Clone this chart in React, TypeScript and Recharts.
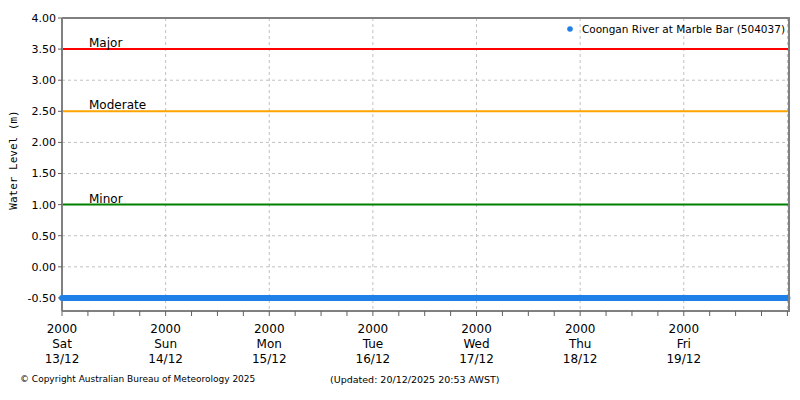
import React from "react";
import {
  ComposedChart, Line, XAxis, YAxis, CartesianGrid, ReferenceLine,
} from "recharts";

// hours since Sat 13/12 00:00
const hours = [
  0, 3, 6, 9, 12, 15, 18, 21, 24, 27, 30, 33, 36, 39, 42, 45, 48, 51, 54, 57,
  60, 63, 66, 69, 72, 75, 78, 81, 84, 87, 90, 93, 96, 99, 102, 105, 108, 111,
  114, 117, 120, 123, 126, 129, 132, 135, 138, 141, 144, 147, 150, 153, 156,
  159, 162, 165, 168,
];
// water level (m)
const levels = [
  -0.5, -0.5, -0.5, -0.5, -0.5, -0.5, -0.5, -0.5, -0.5, -0.5, -0.5, -0.5, -0.5,
  -0.5, -0.5, -0.5, -0.5, -0.5, -0.5, -0.5, -0.5, -0.5, -0.5, -0.5, -0.5, -0.5,
  -0.5, -0.5, -0.5, -0.5, -0.5, -0.5, -0.5, -0.5, -0.5, -0.5, -0.5, -0.5, -0.5,
  -0.5, -0.5, -0.5, -0.5, -0.5, -0.5, -0.5, -0.5, -0.5, -0.5, -0.5, -0.5, -0.5,
  -0.5, -0.5, -0.5, -0.5, -0.5,
];

const xTicks = [
  0, 6, 12, 18, 24, 30, 36, 42, 48, 54, 60, 66, 72, 78, 84, 90, 96, 102, 108,
  114, 120, 126, 132, 138, 144, 150, 156, 162, 168,
];
const dayTicks = [0, 24, 48, 72, 96, 120, 144];
const dayYears = ["2000", "2000", "2000", "2000", "2000", "2000", "2000"];
const dayNames = ["Sat", "Sun", "Mon", "Tue", "Wed", "Thu", "Fri"];
const dayDates = ["13/12", "14/12", "15/12", "16/12", "17/12", "18/12", "19/12"];
const gridDays = [24, 48, 72, 96, 120, 144, 168];
const yTicks = [-0.5, 0, 0.5, 1, 1.5, 2, 2.5, 3, 3.5, 4];

const thresholds = [
  { name: "Major", value: 3.5, color: "#ff0000" },
  { name: "Moderate", value: 2.5, color: "#ffa500" },
  { name: "Minor", value: 1.0, color: "#008000" },
];

const seriesName = "Coongan River at Marble Bar (504037)";
const FONT = "'DejaVu Sans', sans-serif";
const BLUE = "#1f80e8";

const XTick = (props: any) => {
  const { x, y, payload } = props;
  const i = dayTicks.indexOf(payload.value);
  if (i < 0) return <g />;
  return (
    <text x={x} y={y + 4} textAnchor="middle" fontSize={12} fontFamily={FONT} fill="#000">
      <tspan x={x} dy="0.9em">{dayYears[i]}</tspan>
      <tspan x={x} dy="1.25em">{dayNames[i]}</tspan>
      <tspan x={x} dy="1.25em">{dayDates[i]}</tspan>
    </text>
  );
};

export default function App() {
  const data = hours.map((h, i) => ({ t: h, level: levels[i] }));

  return (
    <div style={{ position: "absolute", left: 0, top: 0, width: 800, height: 400, background: "#fff" }}>
      <ComposedChart
        width={800}
        height={400}
        data={data}
        margin={{ top: 18, right: 10, left: 0, bottom: 0 }}
      >
        <CartesianGrid
          stroke="#c0c0c0"
          strokeDasharray="3 3"
          verticalValues={gridDays}
          horizontalValues={yTicks}
        />
        <XAxis
          dataKey="t"
          type="number"
          domain={[0, 168.6]}
          ticks={xTicks}
          interval={0}
          height={89}
          tick={<XTick />}
          tickSize={5}
          stroke="#808080"
          axisLine={{ stroke: "#808080", strokeWidth: 2 }}
          tickLine={{ stroke: "#606060" }}
        />
        <YAxis
          type="number"
          domain={[-0.71, 4]}
          ticks={yTicks}
          interval={0}
          width={62}
          tickSize={4}
          allowDataOverflow
          tickFormatter={(v: number) => v.toFixed(2)}
          tick={{ fontSize: 11, fontFamily: FONT, fill: "#000" }}
          axisLine={{ stroke: "#808080", strokeWidth: 2 }}
          tickLine={{ stroke: "#606060" }}
          label={() => (
            <text
              x={17}
              y={160}
              transform="rotate(-90 17 160)"
              textAnchor="middle"
              fontSize={11}
              fontFamily="'DejaVu Sans Mono', monospace"
              fill="#000"
            >
              Water Level (m)
            </text>
          )}
        />
        {thresholds.map((th) => (
          <ReferenceLine
            key={th.name}
            y={th.value}
            stroke={th.color}
            strokeWidth={2}
            label={(p: any) => (
              <text
                x={p.viewBox.x + 27}
                y={p.viewBox.y - 2}
                fontSize={12}
                fontFamily={FONT}
                fill="#000"
              >
                {th.name}
              </text>
            )}
          />
        ))}
        <Line
          dataKey="level"
          stroke={BLUE}
          strokeWidth={6}
          dot={{ r: 3, fill: BLUE, stroke: "none" }}
          isAnimationActive={false}
          name={seriesName}
        />
      </ComposedChart>
      <div
        style={{
          position: "absolute", left: 62, top: 17, width: 728, height: 294,
          borderTop: "2px solid #808080", borderRight: "2px solid #808080",
          boxSizing: "border-box", pointerEvents: "none",
        }}
      />
      <div
        style={{
          position: "absolute", right: 15, top: 23, display: "flex", alignItems: "center",
          fontFamily: FONT, fontSize: 10.5, whiteSpace: "nowrap", color: "#000",
        }}
      >
        <svg width={8} height={8} style={{ marginRight: 8 }}>
          <circle cx={4} cy={4} r={2.8} fill={BLUE} />
        </svg>
        <span>{seriesName}</span>
      </div>
      <div style={{ position: "absolute", left: 20, top: 374, fontFamily: FONT, fontSize: 9, color: "#000" }}>
        © Copyright Australian Bureau of Meteorology 2025
      </div>
      <div style={{ position: "absolute", left: 330, top: 374, fontFamily: FONT, fontSize: 9.5, color: "#000" }}>
        (Updated: 20/12/2025 20:53 AWST)
      </div>
    </div>
  );
}
